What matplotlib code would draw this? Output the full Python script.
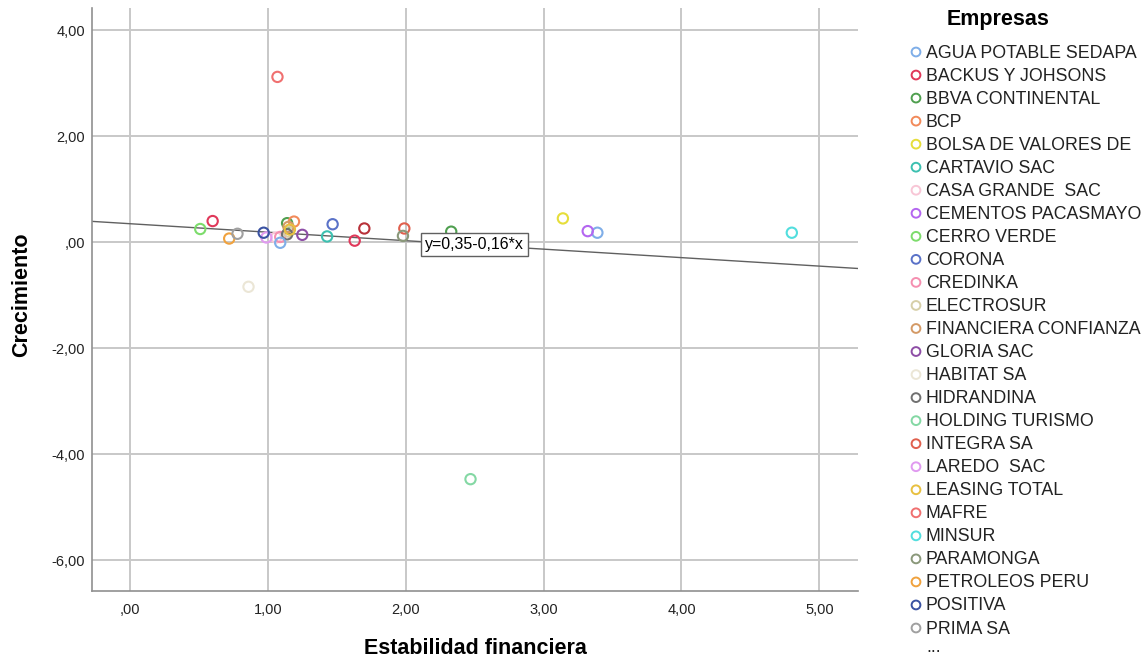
import matplotlib.pyplot as plt
from matplotlib.ticker import MultipleLocator, FuncFormatter

plt.rcParams['font.family'] = ['Liberation Sans', 'DejaVu Sans']

# empresas en la leyenda (texto tal como se ve)
empresas = ["AGUA POTABLE SEDAPA", "BACKUS Y JOHSONS", "BBVA CONTINENTAL", "BCP",
            "BOLSA DE VALORES DE", "CARTAVIO SAC", "CASA GRANDE  SAC",
            "CEMENTOS PACASMAYO", "CERRO VERDE", "CORONA", "CREDINKA", "ELECTROSUR",
            "FINANCIERA CONFIANZA", "GLORIA SAC", "HABITAT SA", "HIDRANDINA",
            "HOLDING TURISMO", "INTEGRA SA", "LAREDO  SAC", "LEASING TOTAL", "MAFRE",
            "MINSUR", "PARAMONGA", "PETROLEOS PERU", "POSITIVA", "PRIMA SA"]
colores = ["#7faee8", "#e0385a", "#4f9f4f", "#f28a5a", "#e6de3a", "#3cc0b0",
           "#f8c6d6", "#b466f0", "#7ddc6c", "#5a72c8", "#f58fb0", "#d6cfa8",
           "#d49a66", "#8e4ea6", "#ebe6d6", "#707070", "#84d8a4", "#e0604e",
           "#e09af0", "#e8c040", "#f07070", "#52dede", "#8a987a", "#f0a23e",
           "#3a52a2", "#a0a0a0"]

# Estabilidad financiera (x) y Crecimiento (y)
estabilidad = [3.39, 0.60, 1.14, 1.19, 3.14, 1.43, 1.06, 3.32, 0.51, 1.47, 1.09, 1.15,
               1.15, 1.25, 0.86, 1.14, 2.47, 1.99, 0.99, 1.16, 1.07, 4.80, 1.98, 0.72,
               0.97, 0.78]
crecimiento = [0.18, 0.40, 0.36, 0.39, 0.45, 0.11, 0.09, 0.21, 0.25, 0.34, 0.10, 0.20,
               0.29, 0.14, -0.84, 0.15, -4.47, 0.26, 0.09, 0.24, 3.12, 0.18, 0.12, 0.07,
               0.18, 0.16]

# empresas que no aparecen en la leyenda ("...")
extra_x = [1.09, 1.63, 1.70, 2.33]
extra_y = [-0.01, 0.03, 0.26, 0.20]
extra_colores = ["#7faee8", "#e0385a", "#b8323a", "#4f9f4f"]

# recta de ajuste
b0, b1 = 0.35, -0.16

W, H = 1145, 660
fig = plt.figure(figsize=(W / 100, H / 100), dpi=100)
ax = fig.add_axes([92 / W, 1 - 591 / H, (858 - 92) / W, (591 - 8) / H])

ax.set_xlim(-0.275, 5.28)
ax.set_ylim(-6.58, 4.42)
ax.xaxis.set_major_locator(MultipleLocator(1))
ax.yaxis.set_major_locator(MultipleLocator(2))


def coma(v, p):
    t = ("%.2f" % v).replace(".", ",")
    if abs(v) < 1e-9:
        t = ",00"
    return t


ax.xaxis.set_major_formatter(FuncFormatter(coma))
ax.yaxis.set_major_formatter(FuncFormatter(coma))
ax.tick_params(axis='both', length=0, labelsize=10.5, colors='#222222')
ax.tick_params(axis='x', pad=9)
ax.tick_params(axis='y', pad=5)
ax.grid(True, color='#c8c8c8', linewidth=1.4)
ax.set_axisbelow(True)
for s in ['top', 'right']:
    ax.spines[s].set_visible(False)
for s in ['left', 'bottom']:
    ax.spines[s].set_color('#909090')
    ax.spines[s].set_linewidth(1.2)

xs = ax.get_xlim()
ax.plot(xs, [b0 + b1 * xs[0], b0 + b1 * xs[1]], color='#606060', linewidth=1, zorder=2)

ax.scatter(estabilidad, crecimiento, s=55, facecolors='none', edgecolors=colores,
           linewidths=1.5, zorder=3)
ax.scatter(extra_x, extra_y, s=55, facecolors='none', edgecolors=extra_colores,
           linewidths=1.5, zorder=3)

ax.text(2.50, -0.04, "y=0,35-0,16*x", fontsize=11.5, ha='center', va='center', zorder=4,
        bbox=dict(boxstyle='square,pad=0.25', facecolor='white', edgecolor='#606060', linewidth=1))

fig.text(475 / W, 1 - 648 / H, "Estabilidad financiera", fontsize=15.5, fontweight='bold',
         ha='center', va='center')
fig.text(22 / W, 1 - 295 / H, "Crecimiento", fontsize=15.5, fontweight='bold',
         ha='center', va='center', rotation=90)

# leyenda manual
lg = fig.add_axes([900 / W, 0, 245 / W, 1])
lg.set_xlim(900, 1145)
lg.set_ylim(660, 0)
lg.axis('off')
lg.text(998, 20, "Empresas", fontsize=15.5, fontweight='bold', ha='center', va='center')
for i, (nom, col) in enumerate(zip(empresas, colores)):
    yy = 52 + i * 23.04
    lg.scatter([916], [yy], s=40, facecolors='none', edgecolors=col, linewidths=1.4, clip_on=False)
    lg.text(926, yy + 1, nom, fontsize=12.8, va='center', ha='left', color='#222222', clip_on=False)
lg.text(926, 648, "...", fontsize=12.8, va='center', ha='left', color='#222222')

fig.savefig("out.png", dpi=100)
